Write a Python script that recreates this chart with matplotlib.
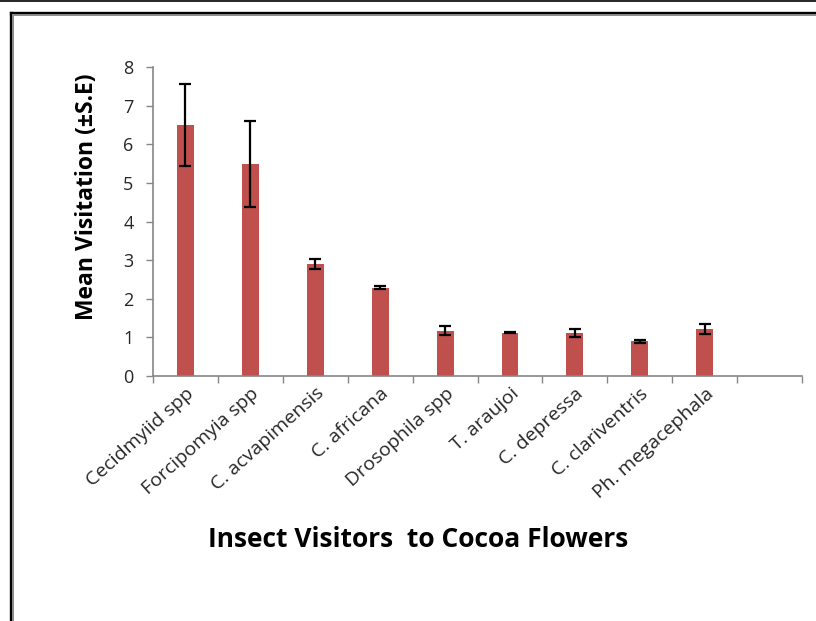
import matplotlib
matplotlib.use("Agg")
import matplotlib.pyplot as plt
from matplotlib.lines import Line2D
import numpy as np

visitors = ['Cecidmyiid spp', 'Forcipomyia spp', 'C. acvapimensis', 'C. africana',
            'Drosophila spp', 'T. araujoi', 'C. depressa', 'C. clariventris',
            'Ph. megacephala', '']
mean_visits = [6.49, 5.49, 2.90, 2.29, 1.17, 1.12, 1.11, 0.90, 1.22, np.nan]
std_err = [1.06, 1.12, 0.14, 0.03, 0.12, 0.01, 0.11, 0.04, 0.13, np.nan]

bar_color = '#C0504D'
axis_grey = '#868686'

plt.rcParams['font.family'] = ['Open Sans', 'DejaVu Sans']


def main():
    fig = plt.figure(figsize=(8.16, 6.21), dpi=100)
    ax = fig.add_axes([0.1875, 0.3945, 0.7955, 0.4975])

    x = np.arange(len(visitors))
    ax.bar(x, mean_visits, width=0.26, color=bar_color)
    ax.errorbar(x, mean_visits, yerr=std_err, fmt='none', ecolor='black',
                elinewidth=1.6, capsize=4.5, capthick=1.6)

    ax.set_xlim(-0.5, len(visitors) - 0.5)
    ax.set_ylim(0, 8)
    ax.set_yticks(range(0, 9))

    # Excel style: tick marks between categories, labels at the centres
    ax.set_xticks(np.arange(-0.5, len(visitors), 1.0))
    ax.set_xticklabels([])
    ax.set_xticks(x, minor=True)
    ax.set_xticklabels(visitors, minor=True, rotation=42, ha='right',
                       rotation_mode='anchor', fontsize=14, color='#262626')
    ax.tick_params(axis='x', which='minor', length=0, pad=6)
    ax.tick_params(axis='x', which='major', length=5, color=axis_grey, width=1)
    ax.tick_params(axis='y', length=5, color=axis_grey, width=1,
                   labelsize=13, labelcolor='#262626', pad=9)

    for side in ('top', 'right'):
        ax.spines[side].set_visible(False)
    for side in ('left', 'bottom'):
        ax.spines[side].set_color(axis_grey)
        ax.spines[side].set_linewidth(1.2)

    ax.set_ylabel('Mean Visitation (±S.E)', fontsize=16.5, fontweight='bold')
    ax.yaxis.set_label_coords(-0.083, 0.58)
    fig.text(0.513, 0.131, 'Insect Visitors  to Cocoa Flowers', ha='center',
             va='center', fontsize=19, fontweight='bold')

    # page frame around the chart
    W, H = 816.0, 621.0
    fig.add_artist(Line2D([0, 1], [1 - 0.6 / H, 1 - 0.6 / H], color='black', lw=1.2))
    fig.add_artist(Line2D([10.5 / W, 1], [1 - 12.5 / H, 1 - 12.5 / H], color='black', lw=2.4))
    fig.add_artist(Line2D([10.5 / W, 10.5 / W], [0, 1 - 12.5 / H], color='black', lw=2.4))
    fig.add_artist(Line2D([13 / W, 1], [1 - 15 / H, 1 - 15 / H], color='#8c8c8c', lw=1.4))
    fig.add_artist(Line2D([13 / W, 13 / W], [0, 1 - 15 / H], color='#8c8c8c', lw=1.4))

    fig.savefig('out.png', dpi=100)


if __name__ == '__main__':
    main()
